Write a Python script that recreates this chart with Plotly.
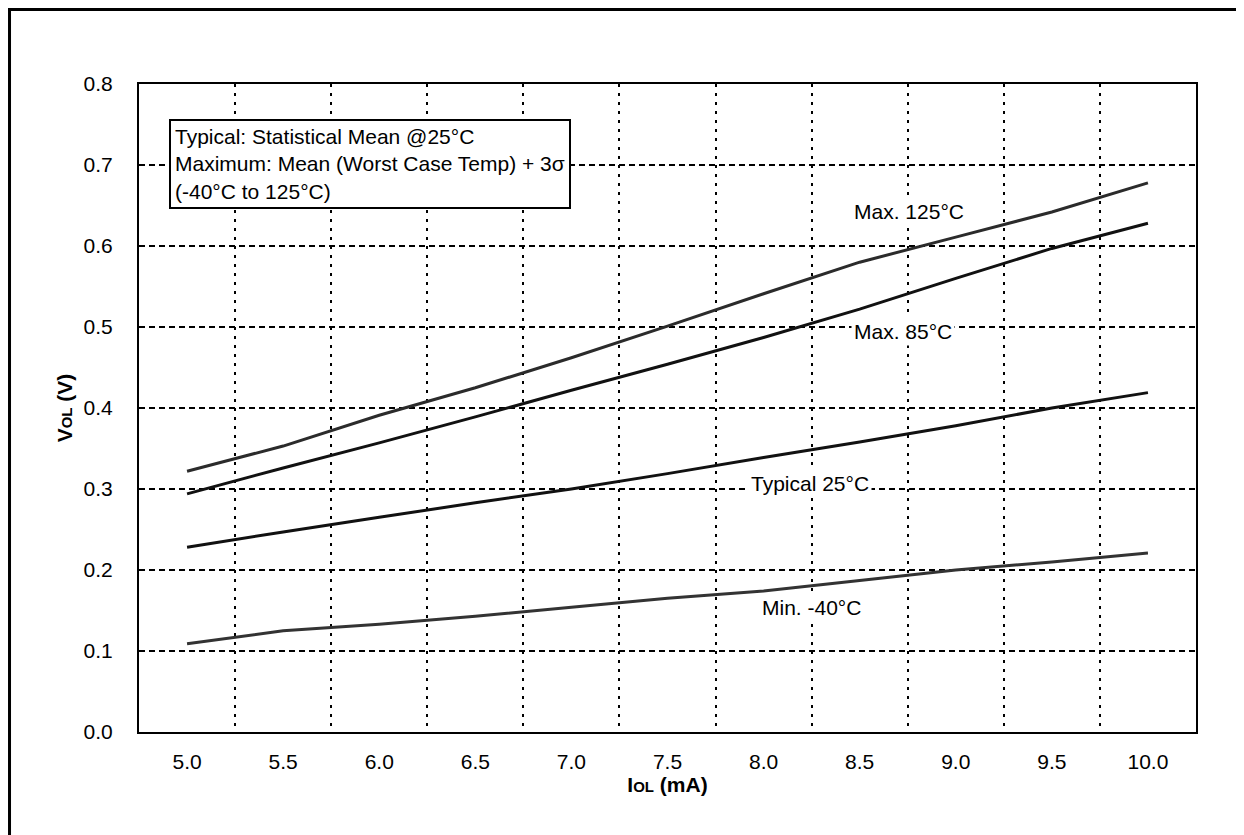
import plotly.graph_objects as go

# IOL (mA)
iol = [5.0, 5.5, 6.0, 6.5, 7.0, 7.5, 8.0, 8.5, 9.0, 9.5, 10.0]

# VOL (V)
max_125 = [0.322, 0.353, 0.391, 0.425, 0.462, 0.501, 0.541, 0.580, 0.611, 0.642, 0.678]
max_85 = [0.294, 0.326, 0.357, 0.389, 0.422, 0.454, 0.487, 0.522, 0.560, 0.597, 0.628]
typical_25 = [0.228, 0.247, 0.265, 0.283, 0.300, 0.319, 0.339, 0.358, 0.378, 0.400, 0.419]
min_m40 = [0.109, 0.125, 0.133, 0.143, 0.154, 0.165, 0.174, 0.187, 0.200, 0.210, 0.221]

curve_names = ["Max. 125°C", "Max. 85°C", "Typical 25°C", "Min. -40°C"]
curve_colors = ["#2b2b2b", "#111111", "#111111", "#333333"]
label_x = [8.755, 8.724, 8.24, 8.25]
label_y = [0.643, 0.494, 0.307, 0.154]

xticks = [5.0, 5.5, 6.0, 6.5, 7.0, 7.5, 8.0, 8.5, 9.0, 9.5, 10.0]
yticks = [0.0, 0.1, 0.2, 0.3, 0.4, 0.5, 0.6, 0.7, 0.8]

FONT = "Arial, Liberation Sans, sans-serif"
FS = 21

fig = go.Figure()
for ys, name, col in zip([max_125, max_85, typical_25, min_m40], curve_names, curve_colors):
    fig.add_trace(go.Scatter(x=iol, y=ys, mode="lines", name=name,
                             line=dict(color=col, width=3)))

for name, lx, ly in zip(curve_names, label_x, label_y):
    fig.add_annotation(x=lx, y=ly, text=name, showarrow=False,
                       font=dict(size=FS, color="#000000", family=FONT),
                       bgcolor="white", borderpad=2)

# note box
fig.add_annotation(
    xref="paper", yref="paper", x=0.0284, y=0.946, xanchor="left", yanchor="top",
    text="Typical: Statistical Mean @25°C<br>Maximum: Mean (Worst Case Temp) + 3σ<br>(-40°C to 125°C)",
    align="left", showarrow=False, font=dict(size=FS, color="#000000", family=FONT),
    bgcolor="white", bordercolor="black", borderwidth=2, borderpad=4,
)

# outer page frame
fig.add_shape(type="rect", xref="paper", yref="paper",
              x0=-0.1225, x1=1.0416, y0=-0.3, y1=1.115,
              line=dict(color="black", width=3), fillcolor="rgba(0,0,0,0)", layer="below")

fig.update_layout(
    width=1236, height=827,
    margin=dict(l=131, r=48, t=76, b=103),
    paper_bgcolor="white", plot_bgcolor="white",
    showlegend=False,
    font=dict(family=FONT, size=FS, color="#000000"),
)

fig.update_xaxes(
    range=[4.75, 10.25], tickvals=xticks, tickformat=".1f",
    showgrid=False, zeroline=False, ticks="", ticklabelstandoff=10,
    showline=True, linecolor="black", linewidth=2, mirror=True,
    tickfont=dict(size=FS, family=FONT),
    minor=dict(tick0=5.25, dtick=0.5, showgrid=True, gridcolor="black",
               gridwidth=2, griddash="3px,6px"),
    title=dict(text="<b>I<span style='font-size:15px'>OL</span> (mA)</b>",
               font=dict(size=FS, family=FONT), standoff=2),
)
fig.update_yaxes(
    range=[0, 0.8], tickvals=yticks, tickformat=".1f",
    showgrid=True, gridcolor="black", gridwidth=2, griddash="6px,4px",
    zeroline=False, ticks="", ticklabelstandoff=20,
    showline=True, linecolor="black", linewidth=2, mirror=True,
    tickfont=dict(size=FS, family=FONT),
    title=dict(text="<b>V<span style='font-size:15px'>OL</span> (V)</b>",
               font=dict(size=FS, family=FONT), standoff=5),
)

fig.write_html("out.html")
